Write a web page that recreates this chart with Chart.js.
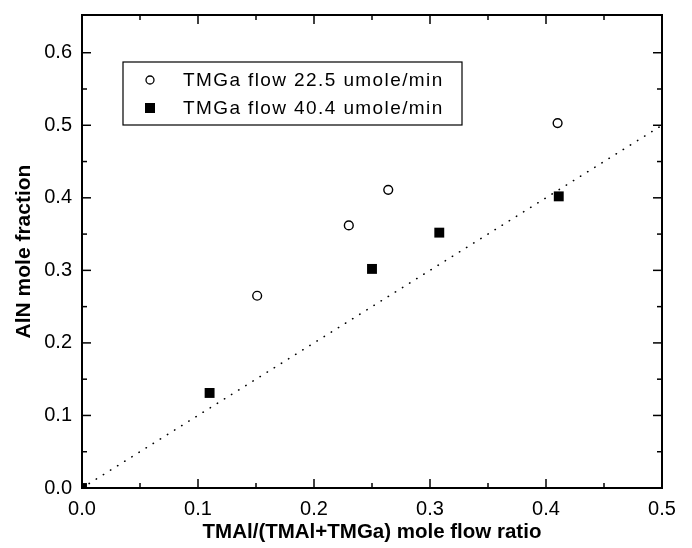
<!DOCTYPE html>
<html>
<head>
<meta charset="utf-8">
<script src="https://cdn.jsdelivr.net/npm/chart.js@4.4.0/dist/chart.umd.min.js"></script>
<style>
  html, body { margin: 0; padding: 0; background: #fff; }
</style>
</head>
<body>
<canvas id="chart" width="692" height="548"></canvas>
<script>
// data
const seriesLabels = ["TMGa flow 22.5 umole/min", "TMGa flow 40.4 umole/min"];
const lowFlowX = [0.151, 0.230, 0.264, 0.410];
const lowFlowY = [0.265, 0.362, 0.411, 0.503];
const highFlowX = [0.0, 0.110, 0.250, 0.308, 0.411];
const highFlowY = [0.0, 0.131, 0.302, 0.352, 0.402];
const guideX = [0, 0.5];
const guideY = [0, 0.5];
const xTicks = [0, 0.1, 0.2, 0.3, 0.4, 0.5];
const yTicks = [0, 0.1, 0.2, 0.3, 0.4, 0.5, 0.6];
const xMinor = [0.05, 0.15, 0.25, 0.35, 0.45];
const yMinor = [0.05, 0.15, 0.25, 0.35, 0.45, 0.55];

const toPoints = (xs, ys) => xs.map((x, i) => ({ x: x, y: ys[i] }));

Chart.defaults.font.family = '"Liberation Sans", Arial, Helvetica, sans-serif';
Chart.defaults.color = "#000";

// frame + inward ticks on all four sides
const frameTicks = {
  id: "frameTicks",
  afterDatasetsDraw(chart) {
    const ctx = chart.ctx;
    const a = chart.chartArea;
    const xs = chart.scales.x;
    const ys = chart.scales.y;
    ctx.save();
    ctx.strokeStyle = "#000";
    ctx.lineWidth = 1.5;
    const tick = (x1, y1, x2, y2) => {
      ctx.beginPath();
      ctx.moveTo(x1, y1);
      ctx.lineTo(x2, y2);
      ctx.stroke();
    };
    xTicks.forEach(v => {
      const px = xs.getPixelForValue(v);
      tick(px, a.bottom, px, a.bottom - 9);
      tick(px, a.top, px, a.top + 9);
    });
    xMinor.forEach(v => {
      const px = xs.getPixelForValue(v);
      tick(px, a.bottom, px, a.bottom - 5);
      tick(px, a.top, px, a.top + 5);
    });
    yTicks.forEach(v => {
      const py = ys.getPixelForValue(v);
      tick(a.left, py, a.left + 9, py);
      tick(a.right, py, a.right - 9, py);
    });
    yMinor.forEach(v => {
      const py = ys.getPixelForValue(v);
      tick(a.left, py, a.left + 5, py);
      tick(a.right, py, a.right - 5, py);
    });
    ctx.lineWidth = 2;
    ctx.strokeRect(a.left, a.top, a.right - a.left, a.bottom - a.top);
    ctx.restore();
  }
};

// boxed legend inside the plot
const boxLegend = {
  id: "boxLegend",
  afterDraw(chart) {
    const ctx = chart.ctx;
    ctx.save();
    ctx.fillStyle = "#fff";
    ctx.fillRect(123, 62, 339, 63);
    ctx.strokeStyle = "#000";
    ctx.lineWidth = 1.2;
    ctx.strokeRect(123, 62, 339, 63);
    // circle
    ctx.beginPath();
    ctx.arc(150, 80, 4, 0, Math.PI * 2);
    ctx.lineWidth = 1.3;
    ctx.stroke();
    // square
    ctx.fillStyle = "#000";
    ctx.fillRect(145, 103, 10, 10);
    ctx.font = '19px "Liberation Sans", Arial, sans-serif';
    ctx.letterSpacing = "1.4px";
    ctx.textBaseline = "middle";
    ctx.fillText(seriesLabels[0], 183, 80.5);
    ctx.fillText(seriesLabels[1], 183, 109);
    ctx.restore();
  }
};

new Chart(document.getElementById("chart"), {
  type: "scatter",
  data: {
    datasets: [
      {
        label: "y = x",
        type: "line",
        data: toPoints(guideX, guideY),
        showLine: true,
        pointRadius: 0,
        borderColor: "#000",
        borderWidth: 1.6,
        borderDash: [0.3, 8.1],
        borderCapStyle: "round",
        fill: false,
        clip: 0
      },
      {
        label: seriesLabels[0],
        data: toPoints(lowFlowX, lowFlowY),
        pointStyle: "circle",
        pointRadius: 4.4,
        pointBorderWidth: 1.4,
        pointBorderColor: "#000",
        pointBackgroundColor: "#fff",
        clip: 0
      },
      {
        label: seriesLabels[1],
        data: toPoints(highFlowX, highFlowY),
        pointStyle: "rect",
        pointRadius: 7,
        pointBorderWidth: 0,
        pointBackgroundColor: "#000",
        clip: 0
      }
    ]
  },
  options: {
    responsive: false,
    animation: false,
    layout: { padding: { top: 15, right: 30, left: 0, bottom: 0 } },
    plugins: {
      legend: { display: false },
      tooltip: { enabled: false }
    },
    scales: {
      x: {
        type: "linear",
        min: 0,
        max: 0.5,
        grid: { display: false },
        border: { display: false },
        afterBuildTicks: s => { s.ticks = xTicks.map(v => ({ value: v })); },
        afterFit: s => { s.height = 60; s.paddingLeft = 0; s.paddingRight = 0; },
        ticks: {
          padding: 1,
          font: { size: 20 },
          callback: v => Number(v).toFixed(1)
        },
        title: {
          display: true,
          text: "TMAl/(TMAl+TMGa) mole flow ratio",
          font: { size: 20.5, weight: "bold" },
          padding: { top: 0, bottom: 3.5 }
        }
      },
      y: {
        type: "linear",
        min: 0,
        max: 0.652,
        grid: { display: false },
        border: { display: false },
        afterBuildTicks: s => { s.ticks = yTicks.map(v => ({ value: v })); },
        afterFit: s => { s.width = 82; s.paddingTop = 0; s.paddingBottom = 0; },
        ticks: {
          padding: 2,
          font: { size: 20 },
          callback: v => Number(v).toFixed(1)
        },
        title: {
          display: true,
          text: "AlN mole fraction",
          font: { size: 21, weight: "bold" },
          padding: { top: 11.4, bottom: 0 }
        }
      }
    }
  },
  plugins: [frameTicks, boxLegend]
});
</script>
</body>
</html>
